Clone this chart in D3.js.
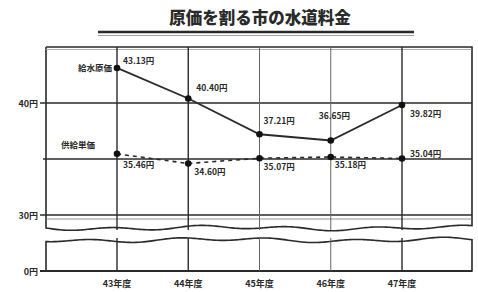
<!DOCTYPE html>
<html><head><meta charset="utf-8">
<script src="https://cdn.jsdelivr.net/npm/d3@7"></script>
<style>body{margin:0;background:#fff}svg{display:block}</style>
</head><body>
<script>
const title = "原価を割る市の水道料金";
const categories = ["43年度","44年度","45年度","46年度","47年度"];
const seriesNames = ["給水原価","供給単価"];
const costValues = [43.13, 40.40, 37.21, 36.65, 39.82];
const priceValues = [35.46, 34.60, 35.07, 35.18, 35.04];
const yTicks = [40, 30];
const yTickLabels = ["40円","30円"];
const zeroLabel = "0円";

(function () {
const W = 478, H = 292;
const svg = d3.select("body").append("svg").attr("width", W).attr("height", H);
const ink = "#2a2a2a";
const font = "'Noto Sans CJK JP', sans-serif";

const pL = 46, pR = 472, pT = 47, upperBottom = 228, lowerTop = 240, pB = 271;
const x = d3.scalePoint().domain(categories).range([117, 402]);
const y = d3.scaleLinear().domain([30, 45]).range([215, 47]);
const y0 = d3.scaleLinear().domain([0, 1]).range([pB, lowerTop + 10]);

// title
svg.append("text").attr("x", 260).attr("y", 24).attr("text-anchor", "middle")
  .attr("font-family", font).attr("font-weight", "900").attr("font-size", 16.5)
  .attr("fill", ink).text(title);
svg.append("line").attr("x1", 98).attr("x2", 414).attr("y1", 32).attr("y2", 32)
  .attr("stroke", ink).attr("stroke-width", 2.5);
svg.append("line").attr("x1", 98).attr("x2", 414).attr("y1", 35.5).attr("y2", 35.5)
  .attr("stroke", "#888").attr("stroke-width", 0.8);

function wave(yBase, amp, phase) {
  return d3.range(pL, pR + 1, 2).map(px => [px, yBase + amp * Math.sin((px - pL) / 14 + phase) + 1.2 * Math.sin((px - pL) / 37)]);
}
const lineGen = d3.line();
const upWave = wave(upperBottom, 1.6, 0);
svg.append("path").attr("d", lineGen([[pL, pT], [pR, pT], ...upWave.slice().reverse(), [pL, pT]]))
  .attr("fill", "none").attr("stroke", ink).attr("stroke-width", 1.6);
const lowWave = wave(lowerTop, 1.6, 1.5);
svg.append("path").attr("d", lineGen([[pL, pB], ...lowWave, [pR, pB], [pL, pB]]))
  .attr("fill", "none").attr("stroke", ink).attr("stroke-width", 1.6);
svg.append("line").attr("x1", pL - 6).attr("x2", pR).attr("y1", pB).attr("y2", pB)
  .attr("stroke", ink).attr("stroke-width", 2);
svg.append("line").attr("x1", pL).attr("x2", pR).attr("y1", pT + 2.5).attr("y2", pT + 2.5)
  .attr("stroke", "#999").attr("stroke-width", 0.8);

[40, 35, 30].forEach(v => {
  svg.append("line").attr("x1", pL - (v % 10 === 0 ? 6 : 3)).attr("x2", pR)
    .attr("y1", y(v)).attr("y2", y(v)).attr("stroke", ink).attr("stroke-width", 1.3);
});
svg.append("line").attr("x1", pL).attr("x2", pR).attr("y1", y(30) + 4).attr("y2", y(30) + 4)
  .attr("stroke", "#777").attr("stroke-width", 0.8);

categories.forEach((c, i) => {
  const light = (i === 2 || i === 3);
  svg.append("line").attr("x1", x(c)).attr("x2", x(c)).attr("y1", pT).attr("y2", upperBottom + 2)
    .attr("stroke", light ? "#666" : ink).attr("stroke-width", light ? 1 : 1.4);
  svg.append("line").attr("x1", x(c)).attr("x2", x(c)).attr("y1", lowerTop - 2).attr("y2", pB)
    .attr("stroke", light ? "#666" : ink).attr("stroke-width", light ? 1 : 1.4);
});

yTicks.forEach((v, i) => {
  svg.append("text").attr("x", 38).attr("y", y(v) + 3.5).attr("text-anchor", "end")
    .attr("font-family", font).attr("font-size", 9).attr("font-weight", "bold").attr("fill", ink).text(yTickLabels[i]);
});
svg.append("text").attr("x", 38).attr("y", y0(0) + 3.5).attr("text-anchor", "end")
  .attr("font-family", font).attr("font-size", 9).attr("font-weight", "bold").attr("fill", ink).text(zeroLabel);

categories.forEach(c => {
  svg.append("text").attr("x", x(c)).attr("y", 287).attr("text-anchor", "middle")
    .attr("font-family", font).attr("font-size", 9).attr("font-weight", "bold").attr("fill", ink).text(c);
});

const ln = d3.line().x((d, i) => x(categories[i])).y(d => y(d));
svg.append("path").attr("d", ln(costValues)).attr("fill", "none").attr("stroke", ink).attr("stroke-width", 1.8);
svg.append("path").attr("d", ln(priceValues))
  .attr("fill", "none").attr("stroke", ink).attr("stroke-width", 1.6).attr("stroke-dasharray", "4,4");

[costValues, priceValues].forEach(vals => {
  svg.selectAll(null).data(vals).enter().append("circle")
    .attr("cx", (d, i) => x(categories[i])).attr("cy", d => y(d)).attr("r", 3.3).attr("fill", "#111");
});

svg.append("text").attr("x", x(categories[0]) - 5).attr("y", y(costValues[0]) + 3).attr("text-anchor", "end")
  .attr("font-family", font).attr("font-size", 8.5).attr("font-weight", "bold").attr("fill", ink).text(seriesNames[0]);
svg.append("text").attr("x", x(categories[0]) - 22).attr("y", y(priceValues[0]) - 6).attr("text-anchor", "end")
  .attr("font-family", font).attr("font-size", 8.5).attr("font-weight", "bold").attr("fill", ink).text(seriesNames[1]);

const fmt = v => v.toFixed(2) + "円";
const costOff = [[6, -4], [8, -8], [4, -10], [-12, -22], [8, 12]];
costValues.forEach((v, i) => {
  svg.append("text").attr("x", x(categories[i]) + costOff[i][0]).attr("y", y(v) + costOff[i][1])
    .attr("font-family", font).attr("font-size", 8.5).attr("font-weight", "bold").attr("fill", ink).text(fmt(v));
});
const priceOff = [[6, 14], [6, 12], [4, 12], [4, 11], [8, -2]];
priceValues.forEach((v, i) => {
  svg.append("text").attr("x", x(categories[i]) + priceOff[i][0]).attr("y", y(v) + priceOff[i][1])
    .attr("font-family", font).attr("font-size", 8.5).attr("font-weight", "bold").attr("fill", ink).text(fmt(v));
});
})();
</script>
</body></html>
